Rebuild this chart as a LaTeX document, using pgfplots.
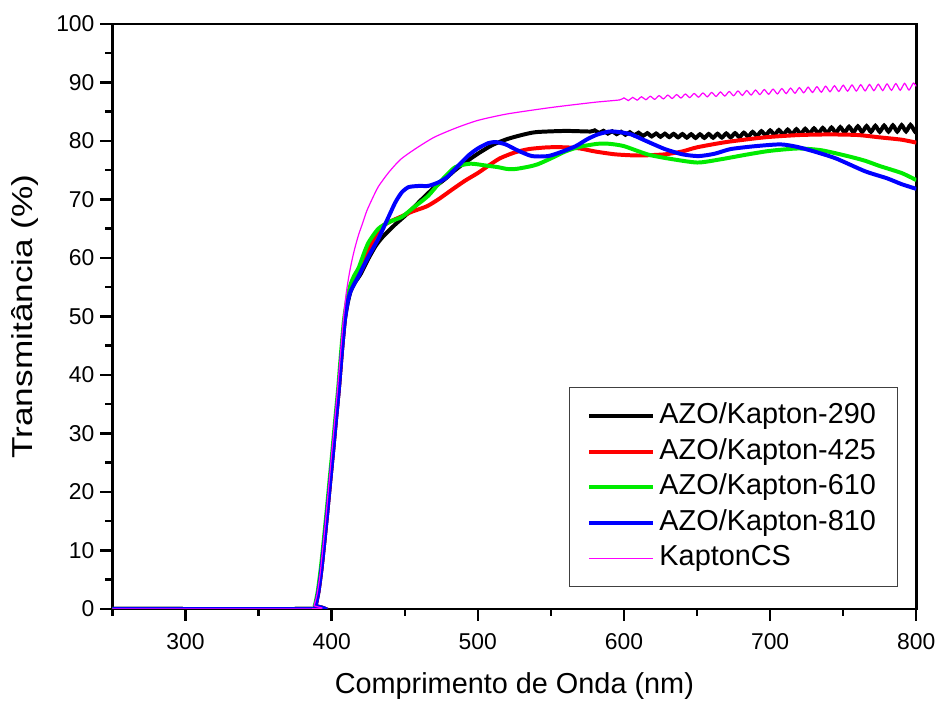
\documentclass[border=0pt]{standalone}
\usepackage{pgfplots}
\pgfplotsset{compat=1.18}
\usepackage{fontspec}
\setmainfont{Liberation Sans}
\definecolor{cgreen}{RGB}{0,235,0}
\definecolor{cmag}{RGB}{255,0,255}
\begin{document}
\begin{tikzpicture}
\begin{axis}[
  width=404pt, height=294pt, scale only axis,
  xmin=250, xmax=800, ymin=0, ymax=100,
  xtick={300,400,500,600,700,800},
  minor xtick={250,350,450,550,650,750},
  ytick={0,10,...,100},
  minor ytick={5,15,...,95},
  tick align=outside,
  xtick pos=bottom, ytick pos=left,
  major tick length=6pt, minor tick length=3.5pt,
  every tick/.style={black, line width=1.2pt},
  axis line style={line width=1.3pt},
  /pgf/number format/assume math mode=true,
  tick label style={font=\fontsize{11.5}{13}\selectfont},
  xticklabel style={anchor=base, yshift=-14.5pt},
  yticklabel style={anchor=east, xshift=0.5pt},
  xlabel={Comprimento de Onda (nm)},
  ylabel={\scalebox{1.22}[1]{Transmitância (\%)}},
  label style={font=\fontsize{14.5}{16}\selectfont},
  xlabel style={at={(axis description cs:0.5,0)}, anchor=base, yshift=-42.5pt},
  ylabel style={at={(axis description cs:0,0.5)}, anchor=center, yshift=44pt},
  legend style={at={(rel axis cs:1,0)}, xshift=-9pt, yshift=10.8pt, anchor=south east,
    draw=black!75, line width=0.5pt,
    font=\fontsize{14.5}{16}\selectfont, row sep=0pt, inner xsep=8.75pt, inner ysep=5.3pt,
    nodes={inner xsep=2.25pt, inner ysep=2.2pt, text height=10.5pt, text depth=3pt}},
  legend cell align=left,
  legend image code/.code={\draw[#1] (0pt,0pt) -- (32pt,0pt);},
  every axis plot/.append style={smooth, tension=0.4},
]
% AZO/Kapton-290
\addplot[black, line width=2pt] coordinates {
(250,0) (387,0) (389,0.6) (391,3) (393,6.8) (395,11.5) (397,16.5) (399,21.8) (401,27) (403,32.5)
(405,37.8) (407,44) (409,49.3) (411,52.3) (413,54.3) (416,55.8) (420,57.3) (425,59.8) (430,62)
(435,63.6) (443,65.6) (452,67.6) (461.6,70) (470,72) (477.7,73.5) (484,74.9) (491.3,76.3)
(500,77.8) (510,79.3) (520,80.3) (530,81) (540,81.5) (560,81.7) (577,81.6)
(580,81.80) (583,81.35) (586,81.72) (589,81.25) (592,81.64) (595,81.15) (598,81.56) (601,81.05)
(604,81.48) (607,80.95) (610,81.40) (613,80.85) (616,81.32) (619,80.76) (622,81.26) (625,80.70)
(628,81.23) (631,80.65) (634,81.20) (637,80.60) (640,81.17) (643,80.55) (646,81.14) (649,80.50)
(652,81.13) (655,80.51) (658,81.18) (661,80.54) (664,81.22) (667,80.57) (670,81.27) (673,80.60)
(676,81.32) (679,80.63) (682,81.40) (685,80.73) (688,81.53) (691,80.84) (694,81.66) (697,80.95)
(700,81.79) (703,81.03) (706,81.86) (709,81.08) (712,81.93) (715,81.13) (718,82.00) (721,81.18)
(724,82.07) (727,81.23) (730,82.14) (733,81.29) (736,82.21) (739,81.34) (742,82.28) (745,81.39)
(748,82.35) (751,81.44) (754,82.42) (757,81.49) (760,82.49) (763,81.53) (766,82.53) (769,81.54)
(772,82.57) (775,81.56) (778,82.61) (781,81.58) (784,82.65) (787,81.60) (790,82.69) (793,81.62)
(796,82.73) (799,81.64) (800,82.0)
};
\addlegendentry{AZO/Kapton-290}
% AZO/Kapton-425
\addplot[red, line width=2pt] coordinates {
(250,0) (387,0) (389,0.6) (391,3) (393,6.8) (395,11.5) (397,16.5) (399,21.8) (401,27) (403,32.5)
(405,37.8) (407,44) (409,49.5) (411,53) (413,55) (416,56.5) (420.6,58) (425,61) (430,63.8)
(434,65.3) (440,66.2) (447,67) (455,67.9) (465,68.8) (473,70) (482,71.6) (491.3,73.2) (500,74.5)
(507,75.7) (515,77) (525,78) (535,78.6) (548,78.9) (560,78.9)
(570,78.7) (580,78.2) (594,77.7) (610,77.5) (628,77.7) (640,78.2) (650,78.9) (670,79.8)
(696,80.6) (720,81) (741,81.1) (760,81) (775,80.6) (790,80.2) (800,79.7)
};
\addlegendentry{AZO/Kapton-425}
% AZO/Kapton-610
\addplot[cgreen, line width=2pt] coordinates {
(250,0) (386.5,0) (388.5,0.6) (390.5,3) (392.5,6.8) (394.5,11.5) (396.5,16.5) (398.5,21.8)
(400.5,27) (402.5,32.5) (404.5,37.8) (406.5,44) (408.5,49.5) (411,53.5) (413,55.5) (415.5,57)
(418.5,58.3) (422,60.7) (425.4,62.7) (432,65) (440,66.2) (448,67) (456,68.6) (466,70.6)
(475,73.2) (484.5,75.5) (495,76.1) (505,75.8) (514,75.5) (520,75.2) (526,75.2) (535,75.6) (541,76)
(550,77) (560,78.2) (570,79) (582,79.5) (590,79.5) (600,79.1) (616,77.7) (630,77) (650,76.3)
(665,76.8) (685,77.7) (700,78.3) (719,78.7) (735,78.4) (753,77.4) (765,76.6) (775,75.7)
(790,74.5) (800,73.3)
};
\addlegendentry{AZO/Kapton-610}
% AZO/Kapton-810
\addplot[blue, line width=2pt] coordinates {
(250,0) (387,0) (389,0.6) (391,3) (393,6.8) (395,11.5) (397,16.5) (399,21.8) (401,27) (403,32.5)
(405,37.8) (407,44) (409,49.3) (411,52.5) (413,54.3) (416,55.8) (418.5,56.9) (421,58.2)
(426,60.6) (432,63.3) (438,66.5) (443.6,69.5) (448,71.2) (452.7,72.1) (460,72.3) (466,72.3)
(473,72.9) (479,73.8) (484.5,75.2) (493.6,77.5) (500,78.7) (507,79.6) (512,79.8) (519,79.4)
(527,78.4) (537,77.4) (548,77.4) (557,78.1) (567,79.1)
(575,80.3) (582,81.1) (590,81.6) (597,81.5) (605,81.1) (615,80) (628,78.6) (640,77.7)
(651,77.4) (662,77.8) (673,78.6) (690,79.1) (707,79.4) (718,79) (730,78.2) (745,77)
(765,74.8) (780,73.6) (790,72.6) (800,71.8)
};
\addlegendentry{AZO/Kapton-810}
% KaptonCS
\addplot[cmag, line width=0.6pt] coordinates {
(250,0) (386,0) (388,0.6) (390,2.5) (392,5.8) (394,10.5) (396,15.5) (398,21) (400,26.5)
(402,32) (404,37.5) (406,43.5) (408,49.5) (410,54) (412,57.2) (414,59.7) (416,61.8) (418.5,64)
(421,65.8) (424,68) (427.6,70) (432,72.2) (439,74.6) (447,76.8) (457,78.6) (470,80.6)
(485,82.2) (500,83.5) (520,84.6) (550,85.7) (580,86.6) (597,87.0)
(600,87.35) (603,86.89) (606,87.44) (609,86.96) (612,87.54) (615,87.03) (618,87.63) (621,87.10)
(624,87.73) (627,87.18) (630,87.82) (633,87.25) (636,87.91) (639,87.33) (642,88.01) (645,87.40)
(648,88.10) (651,87.47) (654,88.19) (657,87.53) (660,88.28) (663,87.60) (666,88.36) (669,87.66)
(672,88.44) (675,87.72) (678,88.53) (681,87.78) (684,88.61) (687,87.84) (690,88.69) (693,87.91)
(696,88.77) (699,87.97) (702,88.85) (705,88.03) (708,88.94) (711,88.09) (714,89.02) (717,88.15)
(720,89.10) (723,88.22) (726,89.18) (729,88.28) (732,89.26) (735,88.33) (738,89.35) (741,88.39)
(744,89.43) (747,88.45) (750,89.51) (753,88.50) (756,89.56) (759,88.52) (762,89.60) (765,88.55)
(768,89.65) (771,88.58) (774,89.69) (777,88.60) (780,89.74) (783,88.64) (786,89.79) (789,88.66)
(792,89.83) (795,88.69) (798,89.88) (800,89.3)
};
\addlegendentry{KaptonCS}
\end{axis}
\path (current axis.south west) ++(-56.5pt,-46pt) rectangle ++(471pt,352pt);
\end{tikzpicture}
\end{document}
